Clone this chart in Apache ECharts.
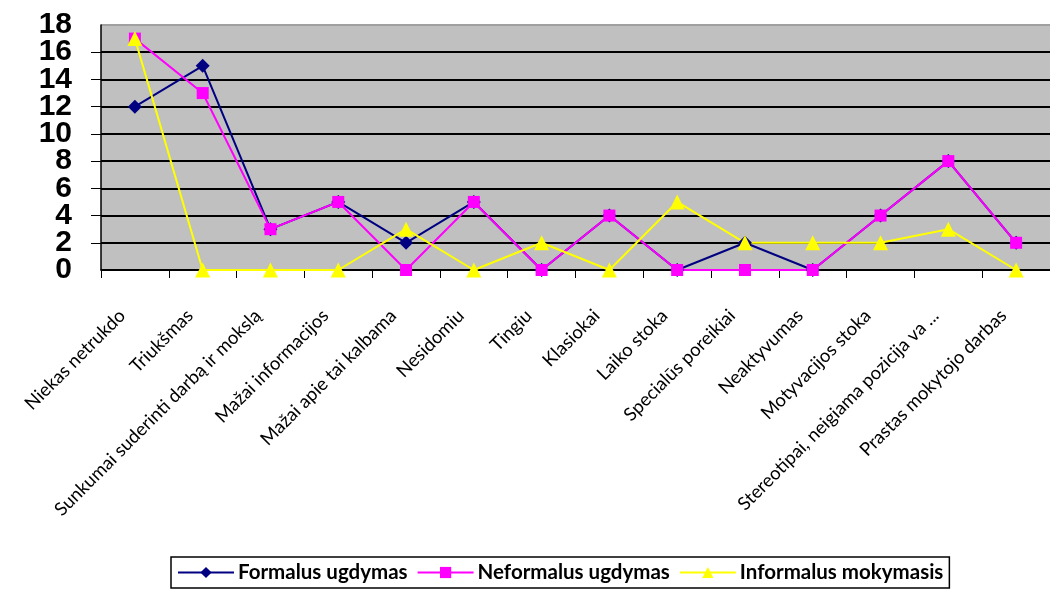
<!DOCTYPE html>
<html>
<head>
<meta charset="utf-8">
<script src="https://cdn.jsdelivr.net/npm/echarts@6/dist/echarts.min.js"></script>
<style>html,body{margin:0;padding:0;background:#fff;}#c{width:1050px;height:592px;}</style>
</head>
<body>
<div id="c"></div>
<script>
const categories = [
  "Niekas netrukdo",
  "Triukšmas",
  "Sunkumai suderinti darbą ir mokslą",
  "Mažai informacijos",
  "Mažai apie tai kalbama",
  "Nesidomiu",
  "Tingiu",
  "Klasiokai",
  "Laiko stoka",
  "Specialūs poreikiai",
  "Neaktyvumas",
  "Motyvacijos stoka",
  "Stereotipai, neigiama pozicija va ...",
  "Prastas mokytojo darbas"
];
const seriesNames = ["Formalus ugdymas", "Neformalus ugdymas", "Informalus mokymasis"];
const formalus   = [12, 15, 3, 5, 2, 5, 0, 4, 0, 2, 0, 4, 8, 2];
const neformalus = [17, 13, 3, 5, 0, 5, 0, 4, 0, 0, 0, 4, 8, 2];
const informalus = [17, 0, 0, 0, 3, 0, 2, 0, 5, 2, 2, 2, 3, 0];
const yTicks = [0, 2, 4, 6, 8, 10, 12, 14, 16, 18];
const yMin = yTicks[0], yMax = yTicks[yTicks.length - 1];

const chart = echarts.init(document.getElementById('c'), null, {renderer: 'canvas'});
const gridColors = yTicks.map((v, i) => i === yTicks.length - 1 ? '#a0a0a0' : '#000');
const yLabelStyle = {margin: 29, color: '#000', fontFamily: 'Liberation Sans', fontWeight: 'bold', fontSize: 30};
chart.setOption({
  animation: false,
  backgroundColor: '#fff',
  grid: {left: 101, top: 25, width: 957, height: 245, backgroundColor: '#c0c0c0', show: true, borderWidth: 0},
  legend: {
    top: 557, left: 171, width: 779,
    padding: [5, 6, 5, 6],
    borderColor: '#000', borderWidth: 1.5,
    itemWidth: 56, itemHeight: 14, itemGap: 9,
    textStyle: {fontFamily: 'Lato', fontWeight: 'bold', fontSize: 20.5, color: '#000', padding: [0, 0, 0, -1]},
    data: seriesNames
  },
  xAxis: {
    type: 'category', data: categories, boundaryGap: true,
    axisLine: {lineStyle: {color: '#000', width: 1.5}},
    axisTick: {show: true, length: 8, lineStyle: {color: '#000', width: 1}},
    axisLabel: {rotate: 45, interval: 0, margin: 30, padding: [0, 18, 0, 0],
      fontFamily: 'Lato', fontSize: 18.5, color: '#000'}
  },
  yAxis: [
    {
      type: 'value', min: yMin, max: yMax, interval: 2,
      axisLine: {show: true, lineStyle: {color: '#000', width: 1.5}},
      axisTick: {show: true, length: 10, lineStyle: {color: '#000'}},
      splitLine: {show: true, lineStyle: {color: gridColors, width: 2}},
      axisLabel: Object.assign({showMinLabel: false, showMaxLabel: false}, yLabelStyle)
    },
    {
      type: 'value', position: 'left', offset: 0, min: yMin, max: yMax, interval: 2,
      axisLine: {show: false}, axisTick: {show: false}, splitLine: {show: false},
      axisLabel: Object.assign({showMinLabel: true, showMaxLabel: true,
        formatter: v => (v === yMin || v === yMax) ? String(v) : ''}, yLabelStyle)
    }
  ],
  series: [
    {name: seriesNames[0], type: 'line', data: formalus, symbol: 'diamond', symbolSize: 14,
      itemStyle: {color: '#000080'}, lineStyle: {color: '#000080', width: 2}},
    {name: seriesNames[1], type: 'line', data: neformalus, symbol: 'rect', symbolSize: 12,
      itemStyle: {color: '#ff00ff'}, lineStyle: {color: '#ff00ff', width: 2}},
    {name: seriesNames[2], type: 'line', data: informalus, symbol: 'triangle', symbolSize: 15,
      itemStyle: {color: '#ffff00'}, lineStyle: {color: '#ffff00', width: 2}}
  ]
});
</script>
</body>
</html>
